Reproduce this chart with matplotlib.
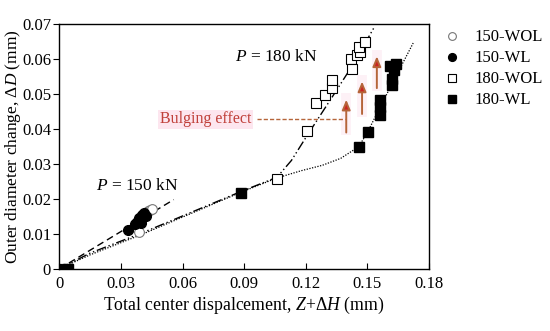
import matplotlib
matplotlib.use('Agg')
import matplotlib.pyplot as plt

plt.rcParams['font.family'] = ['Liberation Serif', 'DejaVu Serif']
plt.rcParams['mathtext.fontset'] = 'custom'
plt.rcParams['mathtext.it'] = 'Liberation Serif:italic'
plt.rcParams['mathtext.rm'] = 'Liberation Serif'

# measured points
wol150_x = [0.0005, 0.0365, 0.0386, 0.043, 0.044, 0.045]
wol150_y = [0.0, 0.0120, 0.0105, 0.0165, 0.0168, 0.0172]
wl150_x = [0.0005, 0.002, 0.0334, 0.037, 0.038, 0.039, 0.0395, 0.040, 0.041, 0.042]
wl150_y = [0.0, 0.0, 0.0110, 0.0128, 0.0135, 0.0145, 0.0130, 0.0155, 0.0160, 0.0150]
wol180_x = [0.001, 0.003, 0.106, 0.1205, 0.125, 0.1294, 0.1329, 0.1329, 0.1418,
            0.1423, 0.1449, 0.1466, 0.1457, 0.149]
wol180_y = [0.0, 0.0, 0.0258, 0.0394, 0.0473, 0.0497, 0.0516, 0.0540, 0.0599,
            0.0573, 0.0611, 0.0620, 0.0635, 0.0649]
wl180_x = [0.004, 0.0883, 0.1457, 0.1502, 0.156, 0.1563, 0.156, 0.162, 0.162,
           0.1629, 0.161, 0.1637]
wl180_y = [0.0, 0.0217, 0.0349, 0.0390, 0.0440, 0.0463, 0.0482, 0.0525, 0.0544,
           0.0568, 0.0580, 0.0587]

# trend lines
fit150_x = [0.0, 0.0557]
fit150_y = [0.0, 0.0198]
fitwol_x = [0.0, 0.015, 0.04, 0.088, 0.106, 0.113, 0.1205, 0.1329, 0.1423, 0.1534]
fitwol_y = [0.0, 0.0045, 0.0102, 0.0220, 0.0262, 0.0310, 0.0380, 0.0492, 0.0578, 0.0692]
fitwl_x = [0.0, 0.015, 0.04, 0.088, 0.106, 0.118, 0.128, 0.137, 0.1457, 0.150, 0.1577, 0.1646, 0.1723]
fitwl_y = [0.0, 0.0040, 0.0098, 0.0218, 0.0260, 0.0281, 0.0296, 0.0316, 0.0349, 0.0390, 0.0480, 0.0559, 0.0646]

arrow_x = [0.1397, 0.1474, 0.1546]
arrow_y0 = [0.0382, 0.0435, 0.0509]
arrow_y1 = [0.0492, 0.0544, 0.0616]

fig = plt.figure(figsize=(5.5, 3.31), dpi=100)
ax = fig.add_axes([0.108, 0.188, 0.672, 0.739])

ax.plot(fit150_x, fit150_y, color='k', lw=1, ls=(0, (5, 3)))
ax.plot(fitwol_x, fitwol_y, color='k', lw=1, ls=(0, (7, 2, 1, 2, 1, 2)))
ax.plot(fitwl_x, fitwl_y, color='k', lw=0.9, ls=(0, (1, 1.2)))

ax.plot(wol180_x, wol180_y, 's', ms=7, mfc='white', mec='k', mew=0.8, label='180-WOL')
ax.plot(wl180_x, wl180_y, 's', ms=7, mfc='k', mec='k', label='180-WL')
ax.plot(wol150_x, wol150_y, 'o', ms=7, mfc='white', mec='#777777', mew=0.8, label='150-WOL')
ax.plot(wl150_x, wl150_y, 'o', ms=7, mfc='k', mec='k', label='150-WL')

for x, y0, y1 in zip(arrow_x, arrow_y0, arrow_y1):
    # faint pink glow behind each arrow
    ax.plot([x, x], [y0, y1 + 0.001], color='#fdf1f6', lw=7, solid_capstyle='butt', zorder=1.5)
    ax.annotate('', xy=(x, y1), xytext=(x, y0),
                arrowprops=dict(arrowstyle='-|>,head_length=0.6,head_width=0.25',
                                ec='#b5653a', fc='#cc2222', lw=1.4))

ax.plot([0.0960, 0.1389], [0.0428, 0.0428], color='#b5653a', lw=1, ls=(0, (3, 1.5)))
ax.text(0.0935, 0.0428, 'Bulging effect', color='#c0403a', fontsize=11.5,
        ha='right', va='center',
        bbox=dict(boxstyle='square,pad=0.1', fc='#fde6ef', ec='none'))

ax.text(0.0857, 0.0606, '$P$ = 180 kN', fontsize=12.5, va='center')
ax.text(0.018, 0.0237, '$P$ = 150 kN', fontsize=12.5, va='center')

ax.set_xlim(0, 0.18)
ax.set_ylim(0, 0.07)
ax.set_xticks([0, 0.03, 0.06, 0.09, 0.12, 0.15, 0.18])
ax.set_xticklabels(['0', '0.03', '0.06', '0.09', '0.12', '0.15', '0.18'])
ax.set_yticks([0, 0.01, 0.02, 0.03, 0.04, 0.05, 0.06, 0.07])
ax.set_yticklabels(['0', '0.01', '0.02', '0.03', '0.04', '0.05', '0.06', '0.07'])
ax.tick_params(axis='x', direction='in', length=4, labelsize=12, pad=5)
ax.tick_params(axis='y', direction='out', length=4, labelsize=12, pad=2)
for s in ax.spines.values():
    s.set_linewidth(1.0)

ax.set_xlabel('Total center dispalcement, $Z$+Δ$H$ (mm)', fontsize=12.8, labelpad=2)
ax.set_ylabel('Outer diameter change, Δ$D$ (mm)', fontsize=12.5)
ax.yaxis.set_label_coords(-0.098, 0.5)

h, l = ax.get_legend_handles_labels()
order = [2, 3, 0, 1]
ax.legend([h[i] for i in order], [l[i] for i in order], loc='upper left',
          bbox_to_anchor=(1.0, 1.04), frameon=False, fontsize=12,
          handlelength=1, handletextpad=0.8, labelspacing=0.3, markerscale=0.8)

fig.savefig('out.png', dpi=100)
